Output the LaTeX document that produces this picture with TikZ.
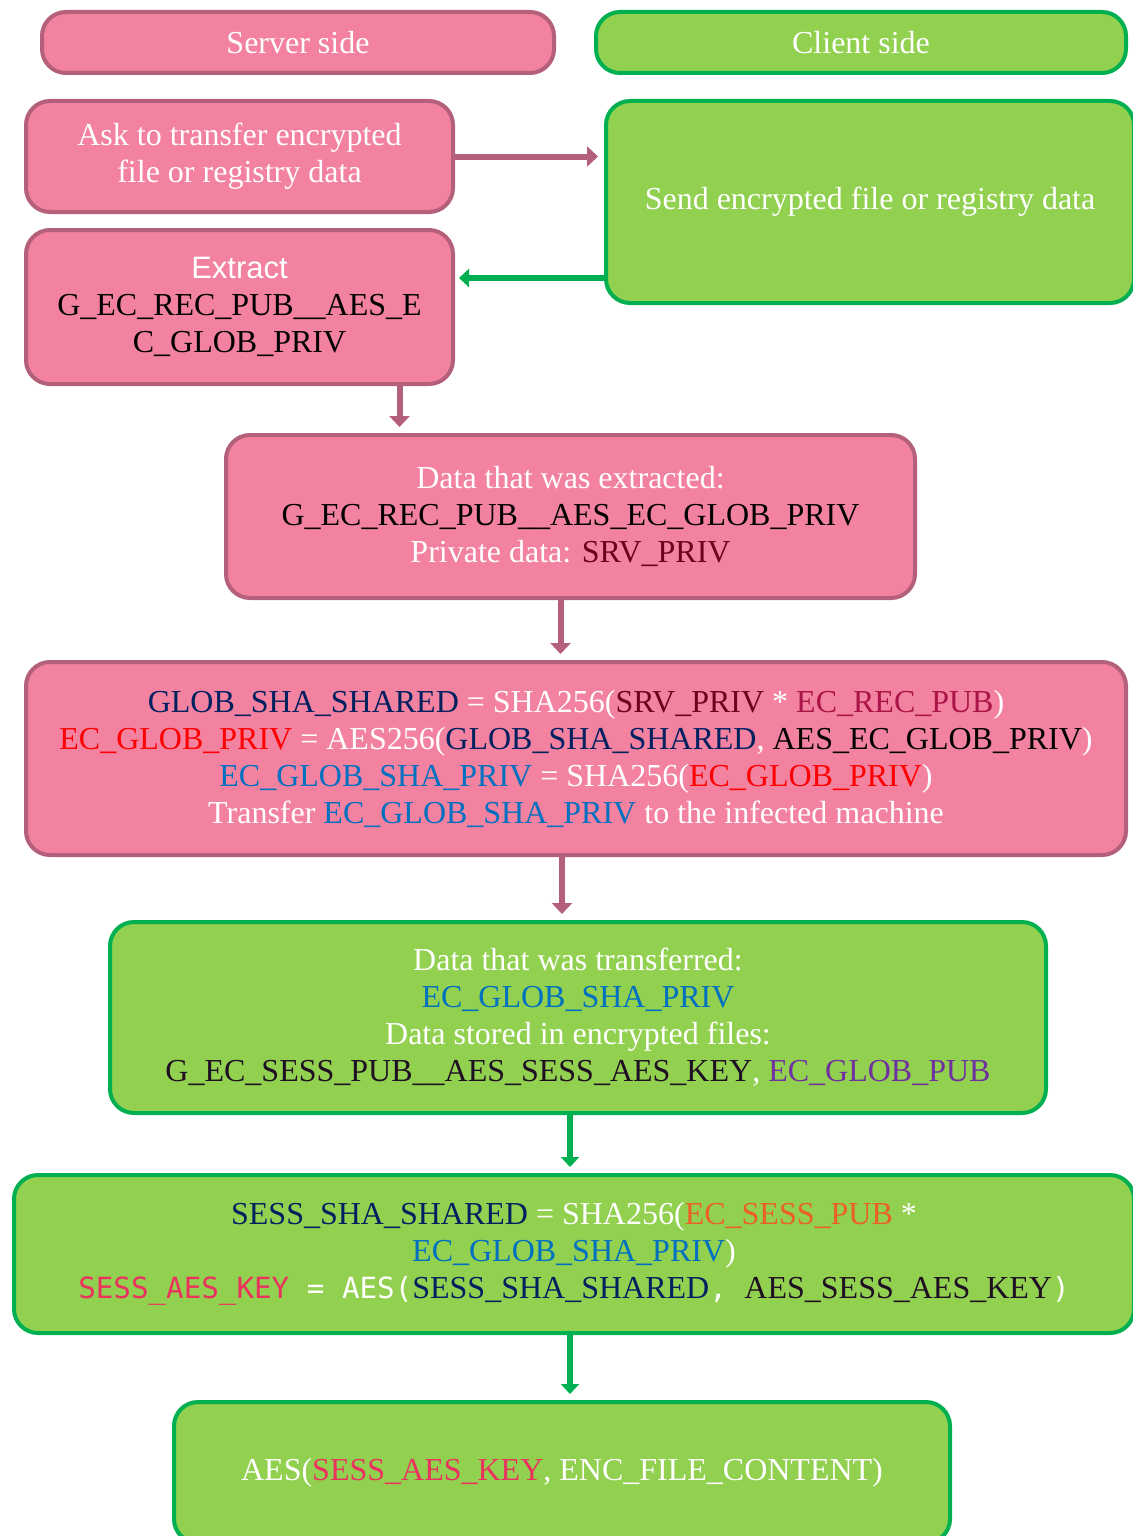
\documentclass[tikz,border=0pt]{standalone}
\usepackage{fontspec}
\setmainfont{Liberation Serif}
\newfontfamily\extractfont{Liberation Sans}
\newfontfamily\keyfont{DejaVu Sans Mono}
\usepackage{tikz}
\usetikzlibrary{arrows.meta,positioning,calc}
\usepackage{xcolor}
\definecolor{srvfill}{RGB}{242,130,160}
\definecolor{srvline}{RGB}{180,96,122}
\definecolor{clifill}{RGB}{146,208,80}
\definecolor{cliline}{RGB}{0,176,80}
\definecolor{navykey}{RGB}{0,32,96}
\definecolor{privkey}{RGB}{110,0,30}
\definecolor{reckey}{RGB}{170,20,70}
\definecolor{globkey}{RGB}{255,0,0}
\definecolor{shakey}{RGB}{0,112,192}
\definecolor{sesskey}{RGB}{237,95,40}
\definecolor{aeskey}{RGB}{235,50,95}
\definecolor{pubkey}{RGB}{112,48,160}
\definecolor{darkkey}{RGB}{30,15,35}

\begin{document}
\begin{tikzpicture}[
    x=0.5pt,y=-0.5pt,
    font=\fontsize{16pt}{18.5pt}\selectfont,
    srvbox/.style={rectangle,rounded corners=12pt,draw=srvline,line width=2pt,fill=srvfill,text=white,align=center,inner sep=0pt},
    clibox/.style={rectangle,rounded corners=12pt,draw=cliline,line width=2pt,fill=clifill,text=white,align=center,inner sep=0pt},
    srvlink/.style={srvline,line width=3pt,-{Triangle[length=5.5pt,width=10pt]}},
    clilink/.style={cliline,line width=3pt,-{Triangle[length=5pt,width=9pt]}}
]
\useasboundingbox (0,0) rectangle (1132,1536);

% Headers
\node[srvbox,minimum width=256pt,minimum height=30.5pt] (srvhead) at (298,42.5) {Server side};
\node[clibox,minimum width=265pt,minimum height=30.5pt] (clihead) at (861,42.5) {Client side};

% Request and extraction
\node[srvbox,minimum width=213.5pt,minimum height=55.5pt] (ask) at (239.5,156.5) {Ask to transfer encrypted\\file or registry data};
\node[clibox,minimum width=264pt,minimum height=101pt] (send) at (870,202) {Send encrypted file or registry data};
\node[srvbox,minimum width=213.5pt,minimum height=77pt] (extract) at (239.5,307)
    {{\extractfont\fontsize{15.5pt}{18.5pt}\selectfont Extract}\\\textcolor{black}{G\_EC\_REC\_PUB\_\_AES\_E}\\\textcolor{black}{C\_GLOB\_PRIV}};
\node[srvbox,minimum width=344.5pt,minimum height=81.5pt] (dataex) at (570.5,516.5)
    {Data that was extracted:\\\textcolor{black}{G\_EC\_REC\_PUB\_\_AES\_EC\_GLOB\_PRIV}\\Private data: \textcolor{privkey}{SRV\_PRIV}};

% Server computations
\node[srvbox,minimum width=550pt,minimum height=96.5pt] (formula) at (576,758.5)
    {\textcolor{navykey}{GLOB\_SHA\_SHARED} = SHA256(\textcolor{privkey}{SRV\_PRIV} * \textcolor{reckey}{EC\_REC\_PUB})\\
     \textcolor{globkey}{EC\_GLOB\_PRIV} = AES256(\textcolor{navykey}{GLOB\_SHA\_SHARED}, \textcolor{black}{AES\_EC\_GLOB\_PRIV})\\
     \textcolor{shakey}{EC\_GLOB\_SHA\_PRIV} = SHA256(\textcolor{globkey}{EC\_GLOB\_PRIV})\\
     Transfer \textcolor{shakey}{EC\_GLOB\_SHA\_PRIV} to the infected machine};

% Client computations
\node[clibox,minimum width=468pt,minimum height=95.5pt] (transf) at (578,1017.5)
    {Data that was transferred:\\\textcolor{shakey}{EC\_GLOB\_SHA\_PRIV}\\Data stored in encrypted files:\\
     \textcolor{darkkey}{G\_EC\_SESS\_PUB\_\_AES\_SESS\_AES\_KEY}, \textcolor{pubkey}{EC\_GLOB\_PUB}};
\node[clibox,minimum width=560pt,minimum height=79pt] (session) at (574,1254)
    {\textcolor{navykey}{SESS\_SHA\_SHARED} = SHA256(\textcolor{sesskey}{EC\_SESS\_PUB} *\\
     \textcolor{shakey}{EC\_GLOB\_SHA\_PRIV})\\
     {\keyfont\fontsize{14.6pt}{18.5pt}\selectfont\textcolor{aeskey}{SESS\_AES\_KEY} = AES(}\textcolor{navykey}{SESS\_SHA\_SHARED}{\keyfont\fontsize{14.6pt}{18.5pt}\selectfont, }\textcolor{darkkey}{AES\_SESS\_AES\_KEY}{\keyfont\fontsize{14.6pt}{18.5pt}\selectfont)}};
\node[clibox,minimum width=388pt,minimum height=70.5pt] (final) at (562,1472.5)
    {AES(\textcolor{aeskey}{SESS\_AES\_KEY}, ENC\_FILE\_CONTENT)};

% Links
\draw[srvlink] (ask.east) -- ([xshift=-3pt]ask.east -| send.west);
\draw[clilink] ([yshift=-38pt]send.west) -- ([xshift=2pt,yshift=-38pt]send.west -| extract.east);
\draw[srvlink,shorten >=3pt] ([xshift=80pt]extract.south) -- ([xshift=80pt]extract.south |- dataex.north);
\draw[srvlink,shorten >=3pt] ([xshift=-5pt]dataex.south) -- ([xshift=-5pt]dataex.south |- formula.north);
\draw[srvlink,shorten >=3pt] ([xshift=-7pt]formula.south) -- ([xshift=-7pt]formula.south |- transf.north);
\draw[clilink,shorten >=3pt] ([xshift=-4pt]transf.south) -- ([xshift=-4pt]transf.south |- session.north);
\draw[clilink,shorten >=3pt] ([xshift=-2pt]session.south) -- ([xshift=-2pt]session.south |- final.north);
\end{tikzpicture}
\end{document}
